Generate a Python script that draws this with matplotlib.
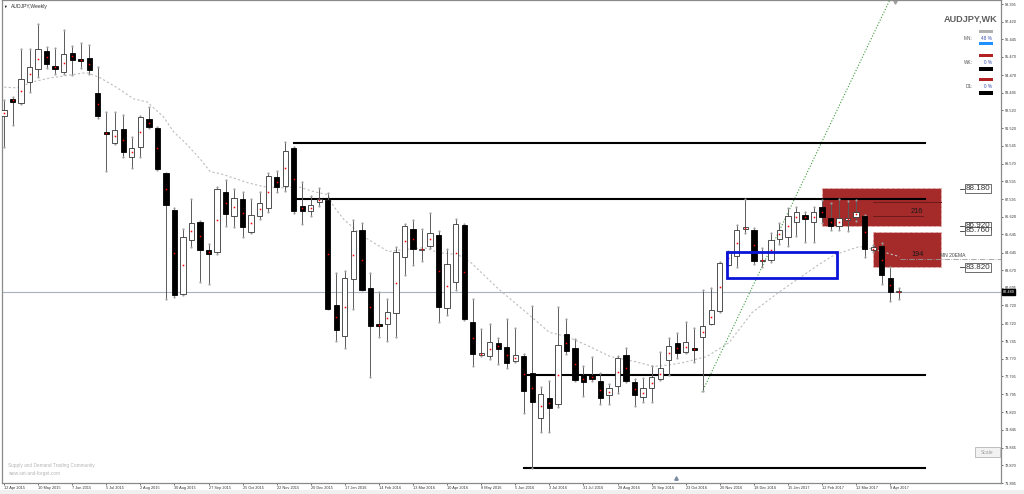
import matplotlib
matplotlib.use("Agg")
import numpy as np
import matplotlib.pyplot as plt
from matplotlib.patches import Rectangle
import matplotlib.transforms as mtransforms

# weekly AUDJPY candles, 12 Apr 2015 .. 16 Apr 2017
opens = [92.21, 93.15, 92.93, 94.09, 94.81, 95.80, 94.97, 94.64, 95.69, 95.36,
         95.41, 93.48, 91.33, 90.72, 91.49, 89.95, 90.50, 92.04, 91.55, 89.06,
         87.02, 82.33, 85.36, 86.36, 84.76, 84.70, 88.01, 86.69, 87.63, 85.80,
         86.69, 87.13, 88.84, 88.34, 90.44, 87.24, 86.97, 87.46, 87.57, 81.77,
         80.01, 83.21, 85.92, 82.71, 80.67, 80.72, 81.28, 84.42, 85.97, 84.76,
         85.03, 85.64, 81.60, 83.04, 86.19, 80.78, 78.96, 78.90, 79.62, 79.40,
         78.63, 78.90, 77.96, 75.48, 76.58, 76.25, 80.12, 79.34, 77.85, 77.85,
         77.52, 76.75, 77.25, 78.96, 77.47, 76.64, 77.14, 77.63, 78.68, 79.62,
         79.12, 79.34, 79.95, 80.72, 81.39, 83.98, 84.48, 85.97, 85.92, 84.20,
         84.26, 85.42, 85.53, 86.36, 86.74, 86.36, 87.19, 86.58, 86.14, 86.47,
         86.63, 86.69, 84.76, 85.03, 83.26, 82.44]
highs = [93.09, 93.26, 95.91, 95.91, 97.29, 96.02, 95.97, 96.96, 96.08, 96.24,
         96.13, 94.92, 92.43, 92.43, 92.27, 91.05, 92.21, 92.71, 91.60, 89.06,
         87.13, 85.97, 87.63, 86.41, 85.14, 88.29, 88.68, 88.18, 88.01, 87.63,
         88.01, 89.06, 89.17, 90.77, 90.50, 88.57, 87.79, 88.23, 87.96, 83.49,
         83.60, 86.47, 86.30, 83.54, 82.49, 82.10, 84.98, 86.20, 86.47, 85.97,
         86.85, 85.86, 84.87, 86.52, 86.25, 82.05, 80.39, 80.67, 79.90, 80.95,
         80.45, 79.01, 81.71, 77.19, 77.52, 81.66, 80.95, 79.84, 78.35, 78.85,
         77.96, 77.36, 78.90, 79.34, 77.63, 77.69, 78.35, 79.12, 79.90, 80.17,
         80.78, 80.45, 82.60, 82.71, 84.15, 84.75, 86.19, 87.63, 86.03, 84.92,
         85.75, 86.30, 87.13, 87.19, 86.91, 87.19, 87.57, 87.41, 87.63, 87.52,
         87.57, 86.74, 85.09, 85.20, 83.82, 82.71]
lows = [90.50, 91.71, 92.87, 93.54, 94.36, 94.86, 94.53, 94.53, 94.47, 94.86,
        94.53, 92.10, 89.17, 90.66, 89.95, 89.34, 89.95, 91.55, 89.23, 82.05,
        82.16, 82.27, 84.98, 83.04, 82.93, 84.59, 86.14, 86.08, 85.53, 85.75,
        86.52, 86.91, 88.01, 88.07, 86.85, 86.25, 86.69, 87.24, 81.50, 79.73,
        79.34, 81.55, 82.55, 77.74, 79.95, 79.73, 79.95, 83.43, 83.98, 84.20,
        84.92, 80.78, 81.17, 82.55, 80.90, 78.35, 78.90, 78.74, 78.46, 78.24,
        78.57, 75.75, 72.71, 74.71, 74.71, 76.09, 79.01, 77.55, 76.69, 77.52,
        76.25, 76.25, 76.86, 77.50, 76.14, 76.36, 76.36, 77.58, 77.85, 78.79,
        79.07, 78.57, 76.97, 80.67, 81.33, 83.93, 83.87, 85.75, 84.04, 83.87,
        84.15, 85.14, 85.03, 85.58, 85.25, 85.25, 86.30, 85.92, 85.92, 85.86,
        86.41, 84.42, 84.70, 82.88, 81.94, 82.10]
closes = [92.54, 92.98, 94.25, 94.92, 95.91, 95.08, 94.81, 95.63, 95.30, 95.25,
          94.75, 92.21, 91.22, 91.44, 90.22, 90.44, 92.16, 91.60, 89.28, 87.30,
          82.27, 85.53, 86.30, 84.76, 84.59, 88.18, 86.80, 87.68, 86.08, 86.74,
          87.41, 88.90, 88.29, 90.28, 86.97, 86.97, 87.30, 87.63, 81.55, 80.34,
          83.26, 85.86, 82.60, 80.56, 80.56, 81.33, 84.65, 86.14, 84.87, 84.87,
          85.75, 81.66, 84.04, 86.25, 80.95, 79.01, 79.07, 79.67, 79.29, 78.52,
          78.96, 76.97, 76.36, 76.80, 76.03, 79.51, 79.18, 77.58, 77.47, 77.63,
          76.58, 77.14, 78.79, 77.52, 76.75, 77.14, 77.74, 78.24, 79.45, 79.07,
          79.67, 79.23, 80.56, 81.44, 84.09, 84.70, 85.92, 86.08, 84.20, 84.26,
          85.36, 85.92, 86.69, 86.91, 86.52, 86.91, 86.63, 86.14, 86.58, 86.58,
          86.91, 84.87, 84.98, 83.43, 82.44, 82.49]

# monthly 20 EMA as drawn (week index, price)
ema_x = [-0.5, 1.5, 3.4, 5.4, 7.8, 9.3, 9.9, 11.3, 13.3, 15.2, 16.8, 18.7, 19.9,
         21.5, 23.1, 24.2, 25.4, 27.2, 28.6, 30.5, 32.5, 34.5, 36.4, 38.0, 38.7,
         39.9, 42.2, 45.1, 46.9, 49.3, 50.9, 53.3, 54.8, 58.1, 61.3, 64.0, 66.0,
         68.7, 71.1, 73.9, 76.2, 77.8, 79.8, 82.5, 85.1, 87.8, 90.9, 93.6, 95.6,
         97.5, 100.4, 102.2, 105.1]
ema_y = [93.81, 93.76, 94.09, 94.31, 94.47, 94.58, 94.58, 94.31, 93.76, 93.15,
         92.98, 92.16, 91.33, 90.61, 89.78, 89.12, 89.01, 88.73, 88.51, 88.29,
         88.23, 88.29, 88.01, 87.85, 87.19, 86.47, 85.53, 84.70, 84.81, 84.92,
         84.65, 84.53, 84.09, 82.60, 81.33, 80.23, 80.01, 79.45, 78.90, 78.63,
         78.35, 78.41, 78.57, 78.90, 79.67, 81.33, 82.44, 83.32, 83.98, 84.53,
         84.98, 84.81, 84.42]

tick_idx = list(range(0, 105, 4))
tick_labels = ["12 Apr 2015", "10 May 2015", "7 Jun 2015", "5 Jul 2015", "2 Aug 2015",
               "30 Aug 2015", "27 Sep 2015", "25 Oct 2015", "22 Nov 2015", "20 Dec 2015",
               "17 Jan 2016", "14 Feb 2016", "13 Mar 2016", "10 Apr 2016", "8 May 2016",
               "5 Jun 2016", "3 Jul 2016", "31 Jul 2016", "28 Aug 2016", "25 Sep 2016",
               "23 Oct 2016", "20 Nov 2016", "18 Dec 2016", "15 Jan 2017", "12 Feb 2017",
               "12 Mar 2017", "9 Apr 2017"]
price_ticks = [98.395, 97.420, 96.445, 95.470, 94.470, 93.495, 92.520, 91.520, 90.545,
               89.570, 88.595, 87.595, 86.620, 85.645, 84.645, 83.670, 82.695, 81.720,
               80.720, 79.745, 78.770, 77.795, 76.795, 75.820, 74.845, 73.845, 72.870,
               71.895]

sr_levels = [90.72, 87.63, 77.85, 72.71]
sr_start = [34.0, 34.4, 61.0, 61.0]
sr_end = 108.1
zones = [(96.0, 110.0, 86.10, 88.20), (102.0, 110.0, 83.86, 85.79)]
zone_labels = ["88.180", "86.920", "85.760", "83.820"]
zone_label_y = [88.18, 86.12, 85.84, 83.83]
blue_box = (84.9, 97.7, 83.26, 84.65)
trend = ([81.9, 104.0], [76.91, 98.67])
last_price = 82.489

plt.rcParams['font.family'] = ['Liberation Sans', 'DejaVu Sans']

fig = plt.figure(figsize=(10.24, 4.94), dpi=100)
fig.patch.set_facecolor("white")
ax = fig.add_axes([2 / 1024, 11 / 494, 999 / 1024, 483 / 494])
ax.set_xlim(-0.235, 117.0)
ax.set_ylim(71.94, 98.62)
for sp in ax.spines.values():
    sp.set_color("#8a8a8a")
    sp.set_linewidth(0.9)

idx = np.arange(len(opens))
o = np.array(opens); c = np.array(closes)
h = np.array(highs); l = np.array(lows)
up = c >= o

# zones (behind candles)
for x0, x1, y0, y1 in zones:
    ax.add_patch(Rectangle((x0, y0), x1 - x0, y1 - y0, facecolor="#a52a2a",
                           edgecolor="#e6b3b3", linestyle="--", linewidth=0.7, zorder=1))
ax.plot([102.0, 110.0], [87.46, 87.46], color="#6e1a1a", lw=0.7, zorder=1.5)
ax.plot([102.0, 107.8], [86.69, 86.69], color="#6e1a1a", lw=0.7, zorder=1.5)
ax.text(107.8, 86.74, "216", fontsize=5.3, color="#1a1a1a", ha="right", va="bottom", zorder=1.6)
ax.text(107.2, 84.55, "194", fontsize=5.3, color="#1a1a1a", ha="center", va="center", zorder=1.6)

# current price line
ax.axhline(last_price, color="#a9b1c0", lw=0.8, zorder=1.2)

# EMA and its label
ax.plot(ema_x, ema_y, color="#bdbdbd", lw=0.8, dashes=(2, 2), zorder=1.3)
ax.plot([105.1, 117.0], [84.30, 84.30], color="#9a9a9a", lw=0.6, linestyle="-.", zorder=1.3)
ax.text(109.9, 84.48, "MN 20EMA", fontsize=3.6, color="#444444", ha="left", va="center")

# trend line
ax.plot(trend[0], trend[1], color="#3a9a3a", lw=0.8, linestyle=":", zorder=1.4)

# support / resistance lines
for lev, xs in zip(sr_levels, sr_start):
    ax.plot([xs, sr_end], [lev, lev], color="black", lw=1.5, zorder=2)

# candles
ax.vlines(idx, l, h, color="#5a5a5a", lw=0.7, zorder=3)
body_lo = np.minimum(o, c)
body_h = np.maximum(np.abs(c - o), 0.06)
ax.bar(idx[up], body_h[up], bottom=body_lo[up], width=0.62, color="white",
       edgecolor="#333333", linewidth=0.6, zorder=4)
ax.bar(idx[~up], body_h[~up], bottom=body_lo[~up], width=0.62, color="black",
       edgecolor="black", linewidth=0.6, zorder=4)
ax.plot(idx, (o + c) / 2, "s", color="red", ms=1.1, mew=0, zorder=5)
ax.plot(idx, h, ".", color="#a0a0a0", ms=1.2, zorder=3)
ax.plot(idx, l, ".", color="#a0a0a0", ms=1.2, zorder=3)

# blue box
bx0, bx1, by0, by1 = blue_box
ax.add_patch(Rectangle((bx0, by0), bx1 - bx0, by1 - by0, fill=False,
                       edgecolor="#0a14d8", linewidth=2.0, zorder=6))

# level labels
for txt, yv in zip(zone_labels, zone_label_y):
    ax.plot([112.2, 112.7], [yv, yv], color="#333333", lw=0.6, clip_on=False)
    ax.text(112.85, yv, txt, fontsize=5.8, color="#333333", ha="left", va="center",
            bbox=dict(boxstyle="square,pad=0.1", facecolor="white", edgecolor="#333333",
                      linewidth=0.5), zorder=7)

# axes ticks
ax.yaxis.tick_right()
ax.set_yticks(price_ticks)
ax.set_yticklabels(["%.3f" % v for v in price_ticks])
ax.tick_params(axis="y", labelsize=2.8, length=1.5, width=0.5, pad=1.2,
               colors="#333333")
ax.set_xticks(tick_idx)
ax.set_xticklabels(tick_labels, ha="left")
ax.tick_params(axis="x", labelsize=2.8, length=1.5, width=0.5, pad=1.0,
               colors="#333333")

# last price tag
trans = mtransforms.blended_transform_factory(ax.transAxes, ax.transData)
ax.text(1.0015, last_price, "82.489", transform=trans, fontsize=2.8, color="white",
        ha="left", va="center", bbox=dict(boxstyle="square,pad=0.25", facecolor="black",
                                          edgecolor="black"), zorder=8)

# chart shift markers
ax.plot([104.6], [98.5], marker="v", color="#a0a0a0", ms=2.5, clip_on=False)
ax.plot([78.9], [72.15], marker="^", color="#7a8aa0", ms=2.5, clip_on=False)


def fx(x):
    return x / 1024


def fy(y):
    return 1 - y / 494


# title
fig.text(fx(5.5), fy(6.5), "\u25bc", fontsize=2.6, color="black", ha="center", va="center")
fig.text(fx(11), fy(6.5), "AUDJPY,Weekly", fontsize=3.6, color="#333333", va="center")

# watermark
fig.text(fx(8), fy(465), "Supply and Demand Trading Community", fontsize=3.4,
         color="#b5b5b5", va="center")
fig.text(fx(8), fy(473), "www.set-and-forget.com", fontsize=3.4, color="#b5b5b5", va="center")

# info panel
fig.text(fx(998), fy(19), "AUDJPY,WK", fontsize=6.6, fontweight="bold", color="#5f5f5f",
         ha="right", va="center", fontstretch="condensed")
panel = [("MN:", "48 %", "#b0b0b0", "#1e90ff", 30, 38, 42),
         ("WK:", "0 %", "#b22222", "black", 54, 62, 67),
         ("D1:", "0 %", "#b22222", "black", 78, 86, 91)]
for name, pct, c_top, c_bot, y_top, y_txt, y_bot in panel:
    fig.patches.append(Rectangle((fx(979), fy(y_top + 3.5)), 14 / 1024, 3.5 / 494,
                                 transform=fig.transFigure, facecolor=c_top, edgecolor="none"))
    fig.patches.append(Rectangle((fx(979), fy(y_bot + 3.5)), 14 / 1024, 3.5 / 494,
                                 transform=fig.transFigure, facecolor=c_bot, edgecolor="none"))
    fig.text(fx(973), fy(y_txt), name, fontsize=3.4, color="#555555", ha="right", va="center")
    fig.text(fx(992), fy(y_txt), pct, fontsize=3.4, color="#3a4fb0", ha="right", va="center")

# scale button
fig.patches.append(Rectangle((fx(975), fy(457)), 25 / 1024, 10 / 494, transform=fig.transFigure,
                             facecolor="#f2f2f2", edgecolor="#a8a8a8", linewidth=0.5))
fig.text(fx(987.5), fy(452), "Scale", fontsize=3.6, color="#a0a0a0", ha="center", va="center")

# bottom strip
fig.patches.append(Rectangle((0, 0), 1, 4 / 494, transform=fig.transFigure,
                             facecolor="#f0f0f0", edgecolor="none"))

fig.savefig("out.png", dpi=100, facecolor="white")
